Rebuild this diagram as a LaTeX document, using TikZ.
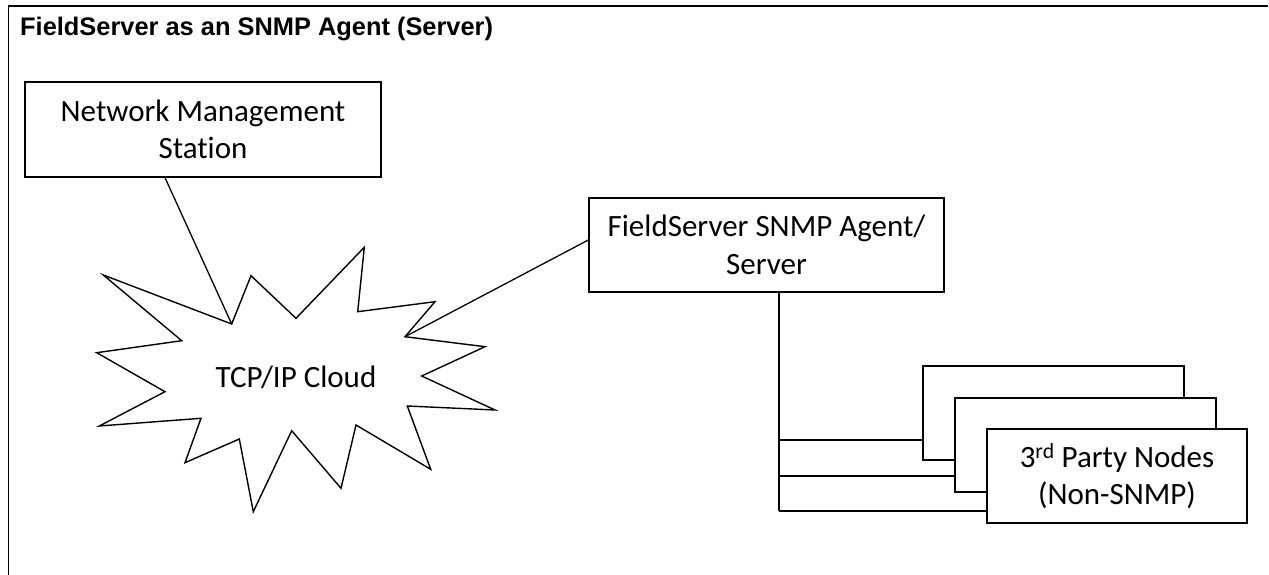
\documentclass[tikz,border=0pt]{standalone}
\usepackage{fontspec}
\setmainfont{Carlito}[Ligatures=NoCommon]
\newfontfamily\titlefont{Liberation Sans}
\begin{document}
\begin{tikzpicture}[x=1pt,y=-1pt,
  box/.style={draw=black,line width=1.4pt,fill=white,inner sep=0pt,
    minimum width=#1,minimum height=94pt,align=center,
    font=\fontsize{31}{37.5}\selectfont},
  box/.default=356pt,
  conn/.style={draw=black,line width=1.3pt},
  burst/.style={draw=black,line width=1.4pt,line join=miter,fill=white}]
\useasboundingbox (0,0) rectangle (1269,575);
% frame
\coordinate (ftl) at (8,6);
\coordinate (ftr) at (1268,6);
\coordinate (fbl) at (8,575);
\draw[line width=2.4pt] (ftl) -- (ftr);
\draw[line width=1pt] ([yshift=1pt]ftl) -- (fbl);
\node[anchor=base west,inner sep=0pt,font=\titlefont\bfseries\fontsize{25.4}{30}\selectfont] (title) at (20,36) {FieldServer as an SNMP Agent (Server)};
% starburst
\coordinate (s1) at (231.7,324);
\coordinate (s2) at (405,336.7);
\draw[burst] (103.3,275) -- (s1) -- (251,275.7) -- (296,318.3) -- (364.3,247.3)
  -- (357.7,311.7) -- (435,301.7) -- (s2) -- (485,346.7) -- (421.7,376)
  -- (495,410) -- (407.3,406) -- (430.7,469.3) -- (356,425) -- (341,488.3)
  -- (291.7,430.7) -- (253.3,511.7) -- (239.3,439) -- (185,462.7) -- (201,418.3)
  -- (99.3,426) -- (165,391.7) -- (96.7,352.7) -- (181.7,340.7) -- cycle;
\node[anchor=base,inner sep=0pt,font=\fontsize{31}{37.5}\selectfont] (cloud) at (296,387) {TCP/IP Cloud};
% boxes
\node[box=356pt,minimum height=95pt] (nms) at (203,129.5) {Network Management\\Station};
\node[box=355pt] (fs) at (766.5,245) {FieldServer SNMP Agent/\\Server};
% connectors to cloud
\draw[conn] ([xshift=-38pt]nms.south) -- (s1);
\draw[conn] ([yshift=5pt]fs.west) -- (s2);
% bus
\coordinate (b1) at (779,440);
\coordinate (b2) at (779,476);
\coordinate (b3) at (779,511);
\draw[conn] (fs.south -| b1) -- (b3);
\node[box=261pt] (n1) at (1053.5,413) {};
\node[box=261pt] (n2) at (1085.5,445) {};
\node[box=260pt] (n3) at (1117,476) {3\textsuperscript{rd} Party Nodes\\(Non-SNMP)};
\draw[conn] (b1) -- (b1 -| n1.west);
\draw[conn] (b2) -- (b2 -| n2.west);
\draw[conn] (b3) -- (b3 -| n3.west);
\end{tikzpicture}
\end{document}
